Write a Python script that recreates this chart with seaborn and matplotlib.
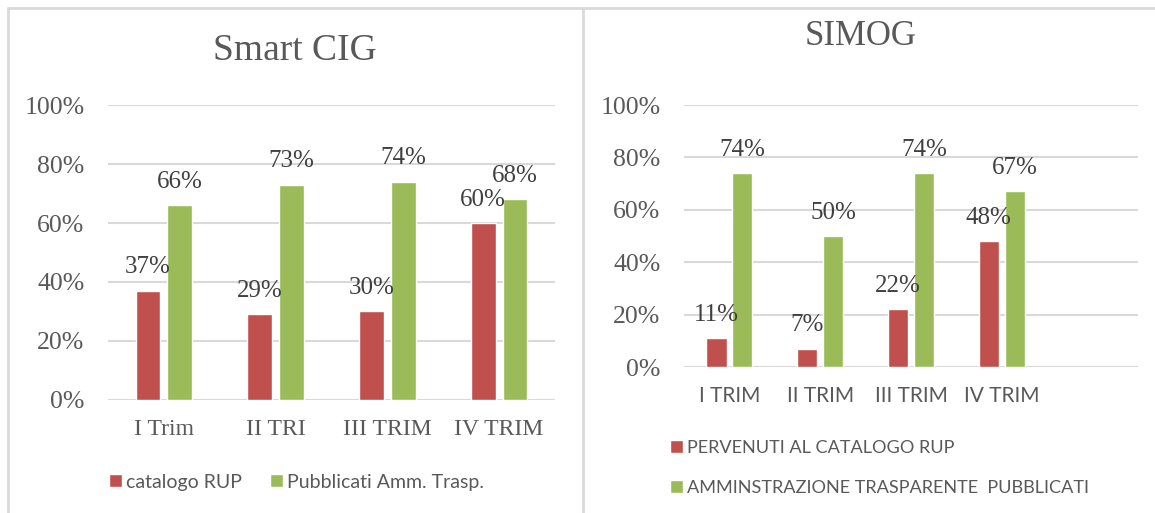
import matplotlib
matplotlib.use("Agg")
import matplotlib.pyplot as plt
from matplotlib.lines import Line2D
import pandas as pd
import seaborn as sns

# Smart CIG (left panel)
cig_quarters = ["I Trim", "II TRI", "III TRIM", "IV TRIM"]
cig_rup = [37, 29, 30, 60]
cig_pub = [66, 73, 74, 68]
cig_series = ["catalogo RUP", "Pubblicati Amm. Trasp."]

# SIMOG (right panel)
simog_quarters = ["I TRIM", "II TRIM", "III TRIM", "IV TRIM"]
simog_rup = [11, 7, 22, 48]
simog_pub = [74, 50, 74, 67]
simog_series = ["PERVENUTI AL CATALOGO RUP", "AMMINSTRAZIONE TRASPARENTE  PUBBLICATI"]

RED = "#C0504D"
GREEN = "#9BBB59"
TXT = "#595959"
LBL = "#404040"
GRID = "#D9D9D9"
SERIF = ["Liberation Serif", "DejaVu Serif"]
SANS = ["Lato", "DejaVu Sans"]

sns.set_theme(style="white")
plt.rcParams["font.family"] = SERIF


def long_df(quarters, rup, pub, series):
    df = pd.DataFrame({"quarter": quarters * 2,
                       "value": rup + pub,
                       "series": [series[0]] * len(quarters) + [series[1]] * len(quarters)})
    return df


def draw_panel(ax, df, series, n_slots, xlab_font, xlab_size):
    sns.barplot(data=df, x="quarter", y="value", hue="series", hue_order=series,
                palette={series[0]: RED, series[1]: GREEN}, width=0.57, gap=0.22,
                saturation=1, ax=ax, legend=True)
    for cont in ax.containers:
        vals = [b.get_height() for b in cont]
        ax.bar_label(cont, labels=[f"{v:.0f}%" for v in vals], padding=9,
                     fontsize=18, color=LBL, family=SERIF)
    ax.set_ylim(0, 100)
    ax.set_xlim(-0.5, n_slots - 0.5)
    ax.set_yticks(range(0, 101, 20))
    ax.set_yticklabels([f"{t}%" for t in range(0, 101, 20)], fontsize=18.5,
                       color=TXT, family=SERIF)
    for t in ax.get_xticklabels():
        t.set_fontsize(xlab_size)
        t.set_color(TXT)
        t.set_family(xlab_font)
    ax.set_xlabel("")
    ax.set_ylabel("")
    ax.grid(axis="y", color=GRID, linewidth=1.5)
    ax.set_axisbelow(True)
    for s in ax.spines.values():
        s.set_visible(False)
    ax.tick_params(length=0, axis="y", pad=17)
    ax.tick_params(length=0, axis="x", pad=14)


fig = plt.figure(figsize=(11.55, 5.13), dpi=100)

ax1 = fig.add_axes([0.0935, 0.2203, 0.387, 0.575])
draw_panel(ax1, long_df(cig_quarters, cig_rup, cig_pub, cig_series), cig_series,
           4, SERIF, 17)
sns.move_legend(ax1, "center left", bbox_to_anchor=(0.0862, 0.06),
                bbox_transform=fig.transFigure, ncol=2, frameon=False, title=None,
                prop={"family": SANS, "size": 14}, labelcolor=TXT,
                handlelength=0.65, handleheight=0.65, handletextpad=0.2,
                columnspacing=1.45, borderpad=0)

ax2 = fig.add_axes([0.5922, 0.2846, 0.393, 0.5107])
draw_panel(ax2, long_df(simog_quarters, simog_rup, simog_pub, simog_series),
           simog_series, 5, SANS, 15)
sns.move_legend(ax2, "center left", bbox_to_anchor=(0.5725, 0.088),
                bbox_transform=fig.transFigure, ncol=1, frameon=False, title=None,
                prop={"family": SANS, "size": 13.1}, labelcolor=TXT,
                handlelength=0.7, handleheight=0.7, handletextpad=0.2,
                labelspacing=1.3, borderpad=0)

fig.text(0.2554, 0.902, "Smart CIG", ha="center", va="center", fontsize=27,
         color=TXT, family=SERIF)
fig.text(0.745, 0.928, "SIMOG", ha="center", va="center", fontsize=25,
         color=TXT, family=SERIF)

# chart frames
frame = dict(color=GRID, linewidth=2, transform=fig.transFigure)
fig.add_artist(Line2D([0.0065, 1.0], [0.984, 0.984], **frame))
fig.add_artist(Line2D([0.0065, 0.0065], [0.0, 0.984], **frame))
fig.add_artist(Line2D([0.505, 0.505], [0.0, 0.984], **frame))

fig.savefig("out.png", dpi=100, facecolor="white")
